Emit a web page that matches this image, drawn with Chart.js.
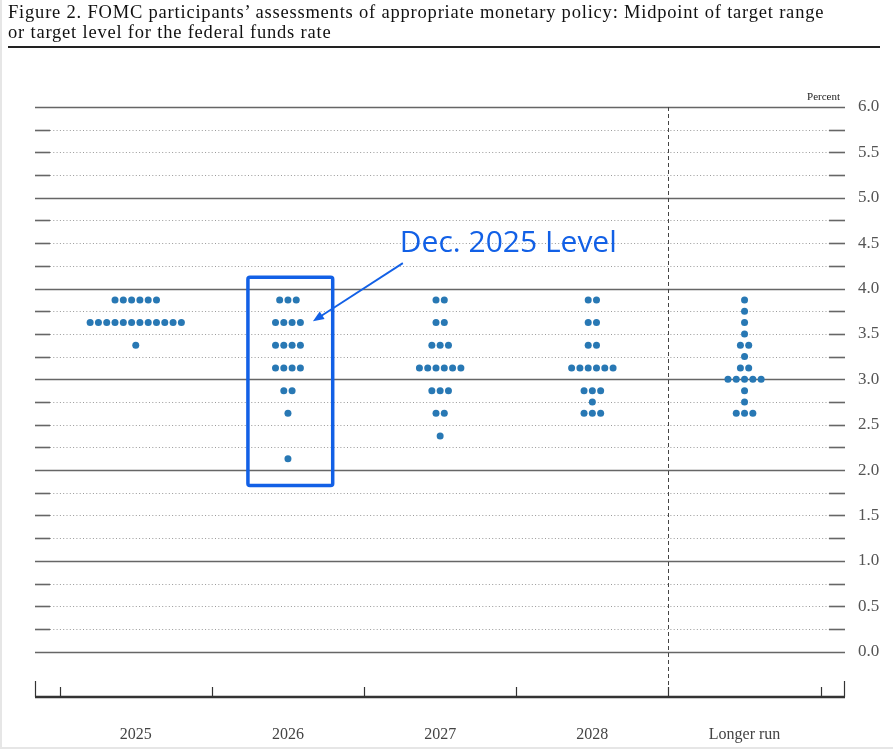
<!DOCTYPE html>
<html>
<head>
<meta charset="utf-8">
<script src="https://cdn.jsdelivr.net/npm/chart.js@4.4.1/dist/chart.umd.min.js"></script>
<style>
  body { margin: 0; background: #fff; }
  #wrap { position: relative; width: 893px; height: 749px; overflow: hidden; }
  #title {
    position: absolute; left: 8px; top: 2px; width: 885px;
    font-family: "Liberation Serif", "DejaVu Serif", serif;
    font-size: 18.5px; line-height: 20px; color: #111; letter-spacing: 0.8px;
    white-space: nowrap;
  }
  #rule { position: absolute; left: 8px; top: 46px; width: 872px; height: 0; border-top: 2.5px solid #222; }
  #dotChart { position: absolute; left: 0; top: 0; }
  #frameL { position: absolute; left: 0; top: 0; width: 2px; height: 749px; background: #e6e6e6; }
  #frameB { position: absolute; left: 0; top: 747px; width: 893px; height: 2px; background: #e6e6e6; }
</style>
</head>
<body>
<div id="wrap">
  <canvas id="dotChart" width="893" height="749"></canvas>
  <div id="title">Figure 2. FOMC participants’ assessments of appropriate monetary policy: Midpoint of target range<br>or target level for the federal funds rate</div>
  <div id="rule"></div>
  <div id="frameL"></div>
  <div id="frameB"></div>
</div>
<script>
// Kategori sumbu x
const categories = ['2025', '2026', '2027', '2028', 'Longer run'];

// Level suku bunga (midpoint) yang dipakai untuk hitungan titik
const rateLevels = [3.875, 3.75, 3.625, 3.5, 3.375, 3.25, 3.125, 3.0, 2.875, 2.75, 2.625, 2.5, 2.375, 2.25, 2.125];

// Jumlah peserta per level, per tahun
const counts2025      = [6, 0, 12, 0, 1, 0, 0, 0, 0, 0, 0, 0, 0, 0, 0];
const counts2026      = [3, 0, 4, 0, 4, 0, 4, 0, 2, 0, 1, 0, 0, 0, 1];
const counts2027      = [2, 0, 2, 0, 3, 0, 6, 0, 3, 0, 2, 0, 1, 0, 0];
const counts2028      = [2, 0, 2, 0, 2, 0, 6, 0, 3, 1, 3, 0, 0, 0, 0];
const countsLongerRun = [1, 1, 1, 1, 2, 1, 2, 5, 1, 1, 3, 0, 0, 0, 0];

// Label sumbu y
const yTickValues = [0, 0.5, 1, 1.5, 2, 2.5, 3, 3.5, 4, 4.5, 5, 5.5, 6];

const allCounts = [counts2025, counts2026, counts2027, counts2028, countsLongerRun];
const dotStep = 0.0545; // jarak antar titik dalam satuan kategori

// Ubah jumlah menjadi titik-titik scatter
const buildPoints = () => {
  const pts = [];
  allCounts.forEach((counts, ci) => {
    counts.forEach((n, li) => {
      for (let i = 0; i < n; i++) {
        pts.push({ x: ci + (i - (n - 1) / 2) * dotStep, y: rateLevels[li] });
      }
    });
  });
  return pts;
};

const serif = '"Liberation Serif", "DejaVu Serif", serif';
const annoBlue = '#1260e6';

// Plugin: garis grid, sumbu bawah, garis putus-putus
const backdropPlugin = {
  id: 'backdrop',
  beforeDatasetsDraw(chart) {
    const { ctx, chartArea, scales } = chart;
    const x = scales.x, y = scales.y;
    const L = chartArea.left, R = chartArea.right;
    ctx.save();
    for (let v = 0; v <= 6.001; v += 0.25) {
      const py = Math.round(y.getPixelForValue(v)) + 0.5;
      const isInt = Math.abs(v - Math.round(v)) < 1e-6;
      if (isInt) {
        ctx.strokeStyle = '#666';
        ctx.lineWidth = 1.6;
        ctx.setLineDash([]);
        ctx.beginPath(); ctx.moveTo(L, py); ctx.lineTo(R, py); ctx.stroke();
      } else {
        ctx.strokeStyle = '#9a9a9a';
        ctx.lineWidth = 1;
        ctx.setLineDash([1, 2.3]);
        ctx.beginPath(); ctx.moveTo(L + 15, py); ctx.lineTo(R - 16, py); ctx.stroke();
        ctx.setLineDash([]);
        ctx.strokeStyle = '#666';
        ctx.lineWidth = 1.6;
        ctx.beginPath(); ctx.moveTo(L, py); ctx.lineTo(L + 15, py); ctx.stroke();
        ctx.beginPath(); ctx.moveTo(R - 16, py); ctx.lineTo(R, py); ctx.stroke();
      }
    }
    // garis putus-putus pemisah Longer run
    const px = Math.round(x.getPixelForValue(3.5)) + 0.5;
    ctx.strokeStyle = '#444';
    ctx.lineWidth = 1;
    ctx.setLineDash([4, 3]);
    ctx.beginPath(); ctx.moveTo(px, y.getPixelForValue(6)); ctx.lineTo(px, chartArea.bottom); ctx.stroke();
    ctx.setLineDash([]);

    // sumbu bawah
    const by = chartArea.bottom;
    ctx.strokeStyle = '#333';
    ctx.lineWidth = 2.5;
    ctx.beginPath(); ctx.moveTo(L, by); ctx.lineTo(R, by); ctx.stroke();
    ctx.lineWidth = 1.2;
    for (let t = -0.5; t <= 4.5; t += 1) {
      const tx = Math.round(x.getPixelForValue(t)) + 0.5;
      ctx.beginPath(); ctx.moveTo(tx, by); ctx.lineTo(tx, by - 10); ctx.stroke();
    }
    [L + 0.5, R - 0.5].forEach(ex => {
      ctx.beginPath(); ctx.moveTo(ex, by); ctx.lineTo(ex, by - 16); ctx.stroke();
    });

    // label Percent
    ctx.fillStyle = '#222';
    ctx.font = '11px ' + serif;
    ctx.textAlign = 'right';
    ctx.textBaseline = 'alphabetic';
    ctx.fillText('Percent', R - 5, y.getPixelForValue(6) - 7);
    ctx.restore();
  },
  afterDatasetsDraw(chart) {
    const { ctx, scales } = chart;
    const x = scales.x, y = scales.y;
    ctx.save();
    // kotak penanda 2026
    const x0 = x.getPixelForValue(0.737), x1 = x.getPixelForValue(1.294);
    const y0 = y.getPixelForValue(4.125), y1 = y.getPixelForValue(1.83);
    ctx.strokeStyle = annoBlue;
    ctx.lineWidth = 3.5;
    ctx.beginPath();
    ctx.roundRect(x0, y0, x1 - x0, y1 - y0, 2);
    ctx.stroke();

    // panah
    const ax0 = x.getPixelForValue(1.755), ay0 = y.getPixelForValue(4.28);
    const ax1 = x.getPixelForValue(1.164), ay1 = y.getPixelForValue(3.64);
    const ang = Math.atan2(ay1 - ay0, ax1 - ax0);
    const head = 11;
    ctx.lineWidth = 1.8;
    ctx.beginPath();
    ctx.moveTo(ax0, ay0);
    ctx.lineTo(ax1 - Math.cos(ang) * head * 0.8, ay1 - Math.sin(ang) * head * 0.8);
    ctx.stroke();
    ctx.fillStyle = annoBlue;
    ctx.beginPath();
    ctx.moveTo(ax1, ay1);
    ctx.lineTo(ax1 - head * Math.cos(ang) + 4.5 * Math.sin(ang), ay1 - head * Math.sin(ang) - 4.5 * Math.cos(ang));
    ctx.lineTo(ax1 - head * Math.cos(ang) - 4.5 * Math.sin(ang), ay1 - head * Math.sin(ang) + 4.5 * Math.cos(ang));
    ctx.closePath();
    ctx.fill();

    // teks anotasi
    ctx.font = '30px "Open Sans", "Noto Sans", sans-serif';
    ctx.textAlign = 'left';
    ctx.textBaseline = 'alphabetic';
    ctx.fillText('Dec. 2025 Level', x.getPixelForValue(1.735), y.getPixelForValue(4.40));
    ctx.restore();
  }
};

const ctx = document.getElementById('dotChart').getContext('2d');
const dotChart = new Chart(ctx, {
  type: 'scatter',
  data: {
    datasets: [{
      label: 'Participants',
      data: buildPoints(),
      backgroundColor: '#2878b4',
      borderWidth: 0,
      pointRadius: 3.5,
      pointHoverRadius: 3.5,
    }],
  },
  options: {
    responsive: false,
    animation: false,
    events: [],
    layout: { padding: { left: 35, top: 107, right: 0, bottom: 0 } },
    plugins: { legend: { display: false }, tooltip: { enabled: false } },
    scales: {
      x: {
        type: 'linear',
        position: 'bottom',
        min: -0.662,
        max: 4.66,
        afterBuildTicks: (scale) => { scale.ticks = categories.map((c, i) => ({ value: i })); },
        afterFit: (scale) => { scale.height = 52; },
        ticks: {
          callback: (v) => categories[v],
          color: '#444',
          font: { family: serif, size: 16 },
          padding: 28,
          maxRotation: 0,
          autoSkip: false,
        },
        grid: { display: false, drawTicks: false, tickLength: 0 },
        border: { display: false },
      },
      y: {
        type: 'linear',
        position: 'right',
        min: -0.5,
        max: 6,
        afterBuildTicks: (scale) => { scale.ticks = yTickValues.map(v => ({ value: v })); },
        afterFit: (scale) => { scale.width = 48; },
        ticks: {
          callback: (v) => v.toFixed(1),
          color: '#555',
          font: { family: serif, size: 17 },
          padding: 13,
        },
        grid: { display: false, drawTicks: false, tickLength: 0 },
        border: { display: false },
      },
    },
  },
  plugins: [backdropPlugin],
});
</script>
</body>
</html>
